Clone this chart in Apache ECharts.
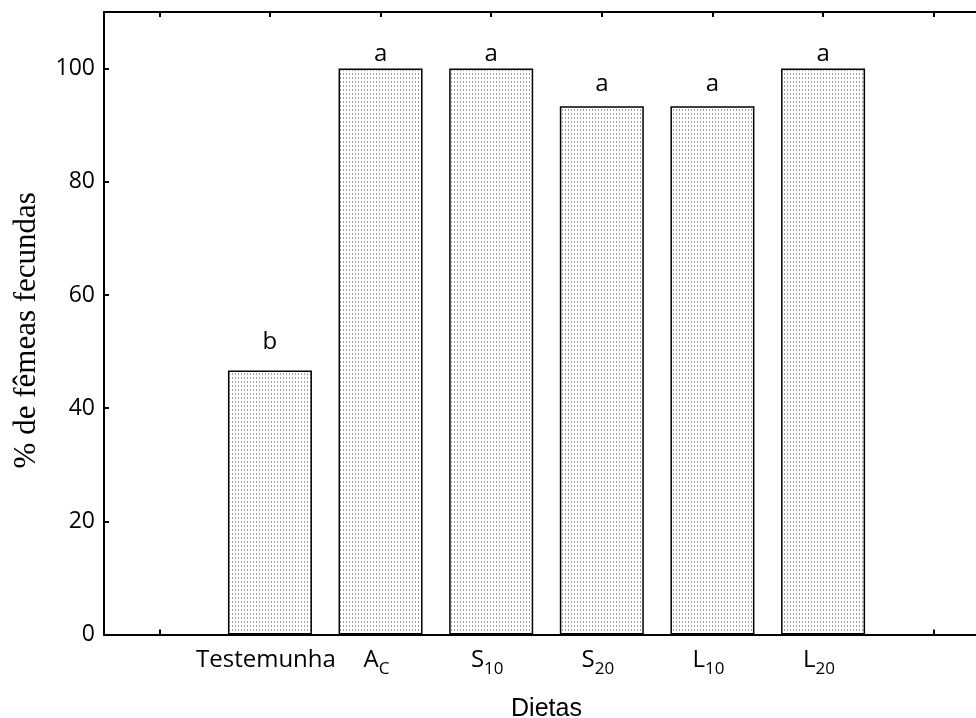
<!DOCTYPE html>
<html>
<head>
<meta charset="utf-8">
<script src="https://cdn.jsdelivr.net/npm/echarts@6/dist/echarts.min.js"></script>
<style>
  html, body { margin: 0; padding: 0; background: #fff; }
  #chart { width: 976px; height: 718px; }
</style>
</head>
<body>
<div id="chart"></div>
<script>
// Diets (empty slots pad the axis on both sides)
const categories = ['', 'Testemunha', 'A|C', 'S|10', 'S|20', 'L|10', 'L|20', ''];
// % of fertile females per diet
const values = [null, 46.67, 100, 100, 93.33, 93.33, 100, null];
// significance letters
const letters = ['', 'b', 'a', 'a', 'a', 'a', 'a', ''];
const yTicks = [0, 20, 40, 60, 80, 100];

const tickFont = '"Open Sans", "DejaVu Sans", sans-serif';

// fine dotted fill used inside the bars
function dotPattern() {
  const c = document.createElement('canvas');
  c.width = 3; c.height = 4;
  const g = c.getContext('2d');
  g.fillStyle = '#fff';
  g.fillRect(0, 0, 3, 4);
  g.fillStyle = '#a0a0a0';
  g.fillRect(1, 1, 1, 2);
  return c;
}
const pattern = { image: dotPattern(), repeat: 'repeat' };

function catLabel(v) {
  if (!v) return '';
  const parts = v.split('|');
  if (parts.length === 1) return '{m|' + parts[0] + '}';
  return '{m|' + parts[0] + '}{s|' + parts[1] + '}';
}

// letters sit closer to the frame on the tallest bars
function letterGap(v) {
  if (v >= 100) return 2;
  if (v >= 90) return 10;
  return 16;
}

const chart = echarts.init(document.getElementById('chart'), null, { renderer: 'canvas' });

const barData = values.map((v, i) => ({
  value: v,
  label: {
    show: v != null,
    formatter: letters[i],
    distance: letterGap(v)
  }
}));

chart.setOption({
  animation: false,
  backgroundColor: '#fff',
  grid: { left: 104, top: 12, right: -13, bottom: 83.5, containLabel: false, outerBoundsMode: 'none' },
  xAxis: [
    {
      type: 'category',
      data: categories,
      position: 'bottom',
      name: 'Dietas',
      nameLocation: 'middle',
      nameGap: 62,
      nameTextStyle: { fontFamily: '"Liberation Sans", Arial, sans-serif', fontSize: 25, color: '#000' },
      axisLine: { show: true, lineStyle: { color: '#000', width: 2 } },
      axisTick: { show: true, inside: true, length: 5, alignWithLabel: true, lineStyle: { color: '#000', width: 2 } },
      axisLabel: {
        margin: 14,
        interval: 0,
        padding: [0, 8, 0, 0],
        formatter: catLabel,
        rich: {
          m: { fontFamily: tickFont, fontSize: 24, color: '#000', lineHeight: 24, verticalAlign: 'top' },
          s: { fontFamily: tickFont, fontSize: 17, color: '#000', lineHeight: 42, verticalAlign: 'middle' }
        }
      },
      splitLine: { show: false }
    },
    {
      type: 'category',
      data: categories,
      position: 'top',
      axisLine: { show: true, lineStyle: { color: '#000', width: 2 } },
      axisTick: { show: true, inside: true, length: 5, alignWithLabel: true, lineStyle: { color: '#000', width: 2 } },
      axisLabel: { show: false },
      splitLine: { show: false }
    }
  ],
  yAxis: {
    type: 'value',
    min: 0,
    max: 110,
    interval: 20,
    name: '% de fêmeas fecundas',
    nameLocation: 'middle',
    nameGap: 62,
    nameTextStyle: {
      fontFamily: '"Liberation Serif", "Times New Roman", serif', fontSize: 31, color: '#000',
      padding: [0, 14, 0, 0]
    },
    axisLine: { show: true, lineStyle: { color: '#000', width: 2 } },
    axisTick: { show: true, inside: true, length: 5, lineStyle: { color: '#000', width: 2 } },
    axisLabel: {
      margin: 9,
      showMaxLabel: false,
      fontFamily: tickFont, fontSize: 23, color: '#000',
      formatter: v => (yTicks.indexOf(v) >= 0 ? String(v) : '')
    },
    splitLine: { show: false }
  },
  series: [{
    type: 'bar',
    data: barData,
    barWidth: 84,
    itemStyle: { color: pattern, borderColor: '#000', borderWidth: 1.5 },
    label: {
      show: true,
      position: 'top',
      fontFamily: tickFont, fontSize: 24, color: '#000'
    }
  }]
});
</script>
</body>
</html>
